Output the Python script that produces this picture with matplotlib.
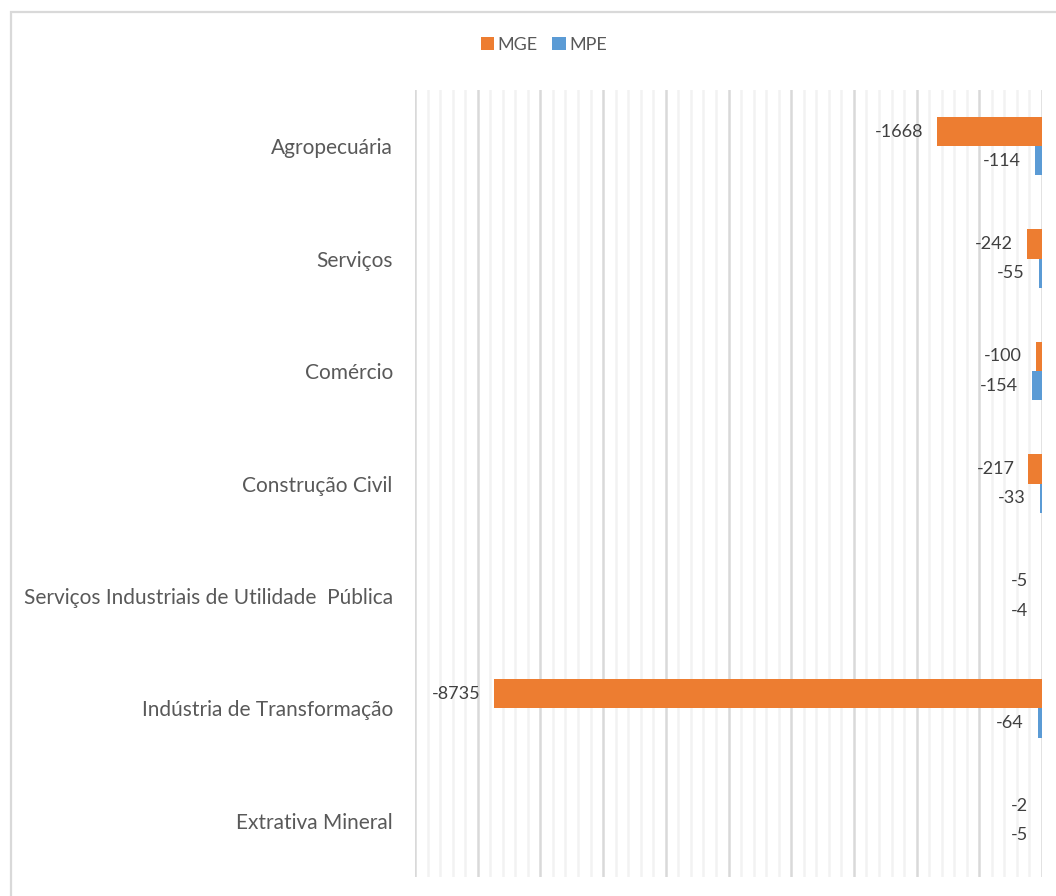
import matplotlib.pyplot as plt
import matplotlib.patches as mpatches
import numpy as np

plt.rcParams['font.family'] = ['Lato', 'DejaVu Sans']

# data, top to bottom as in the chart
categories = ['Agropecuária', 'Serviços', 'Comércio', 'Construção Civil',
              'Serviços Industriais de Utilidade  Pública',
              'Indústria de Transformação', 'Extrativa Mineral']
mge = [-1668, -242, -100, -217, -5, -8735, -2]
mpe = [-114, -55, -154, -33, -4, -64, -5]

orange = '#ED7D31'
blue = '#5B9BD5'
text_gray = '#595959'

W, H = 1056, 896
fig = plt.figure(figsize=(W / 100, H / 100), dpi=100)
ax = fig.add_axes([415 / W, 1 - 877 / H, (1042 - 415) / W, (877 - 90) / H])

# outer chart frame (only top and left edges are inside the image)
fig.patches.append(mpatches.Rectangle((11 / W, -0.1), 1.2, 1 - 12 / H + 0.1,
                                      transform=fig.transFigure, fill=False,
                                      edgecolor='#d9d9d9', linewidth=1.6))

y = np.arange(len(categories))
h = 0.26
ax.barh(y - h / 2, mge, height=h, color=orange, label='MGE', zorder=3)
ax.barh(y + h / 2, mpe, height=h, color=blue, label='MPE', zorder=3)

for yi, v in zip(y - h / 2, mge):
    ax.annotate(str(v), (v, yi), xytext=(-10, 0), textcoords='offset points',
                ha='right', va='center', fontsize=13, color='#404040')
for yi, v in zip(y + h / 2, mpe):
    ax.annotate(str(v), (v, yi), xytext=(-10, 0), textcoords='offset points',
                ha='right', va='center', fontsize=13, color='#404040')

ax.set_xlim(-10000, 0)
ax.set_ylim(len(categories) - 0.5, -0.5)

# gridlines: major every 1000, minor every 200
for xv in np.arange(-10000, 1, 200):
    major = xv % 1000 == 0
    ax.axvline(xv, color='#d9d9d9' if major else '#f2f2f2',
               linewidth=1.8, zorder=1)

ax.set_xticks([])
ax.set_yticks(y)
ax.set_yticklabels(categories, fontsize=15, color=text_gray)
ax.tick_params(axis='y', length=0, pad=16)
for s in ax.spines.values():
    s.set_visible(False)

fig.legend(loc='center', bbox_to_anchor=(544 / W, 1 - 45 / H), ncol=2,
           frameon=False, fontsize=13, handlelength=0.75, handleheight=0.75,
           handletextpad=0.2, columnspacing=0.8, labelcolor=text_gray)

fig.savefig('out.png', dpi=100)
